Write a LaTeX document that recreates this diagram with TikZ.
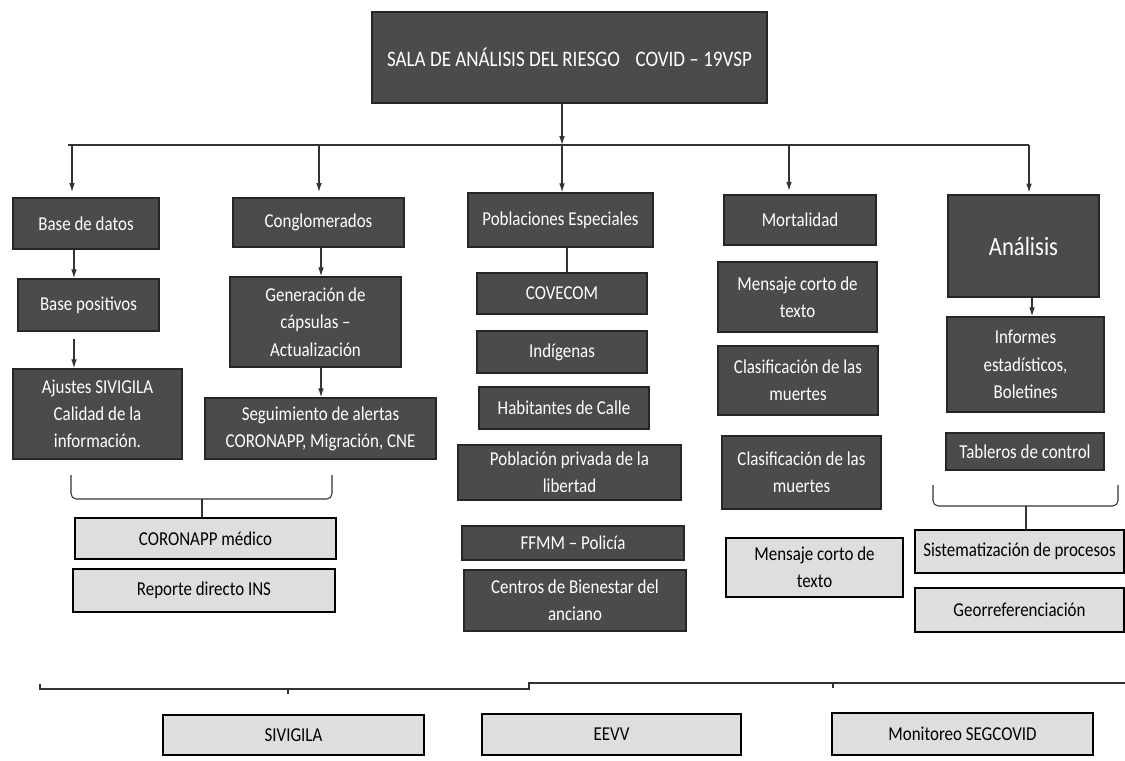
\documentclass[tikz,border=0pt]{standalone}
\usepackage{fontspec}
\setmainfont{Carlito}[FakeStretch=0.86]
\usetikzlibrary{arrows.meta}
\begin{document}
\begin{tikzpicture}[x=1cm,y=1cm]
\definecolor{cdark}{HTML}{4B4B4B}\definecolor{clight}{HTML}{DEDEDE}
\tikzset{darkbox/.style={draw=black!85,line width=0.9pt,fill=cdark,text=white,align=center,inner sep=1pt,font=\fontsize{11.2}{15.5}\selectfont},
 lightbox/.style={draw=black,line width=1pt,fill=clight,text=black,align=center,inner sep=1pt,font=\fontsize{11.2}{15.5}\selectfont},
 link/.style={draw=black!80,line width=0.6pt},
 arr/.style={link,-{Latex[length=5pt,width=3.2pt]}}}
\useasboundingbox (0,0) rectangle (22.5,15.2);
% head
\node[darkbox,minimum width=7.9cm,minimum height=1.82cm,font=\fontsize{12.6}{15}\selectfont] (sala) at (11.39,14.05) {SALA DE ANÁLISIS DEL RIESGO\hspace{0.7em}COVID -- 19VSP};
% column 1
\node[darkbox,minimum width=2.92cm,minimum height=1.02cm] (base) at (1.72,10.73) {Base de datos};
\node[darkbox,minimum width=2.82cm,minimum height=1.04cm] (basepos) at (1.77,9.10) {Base positivos};
\node[darkbox,minimum width=3.38cm,minimum height=1.80cm] (ajustes) at (1.95,6.92) {Ajustes SIVIGILA\\Calidad de la\\información.};
% column 2
\node[darkbox,minimum width=3.42cm,minimum height=0.98cm] (conglo) at (6.37,10.75) {Conglomerados};
\node[darkbox,minimum width=3.42cm,minimum height=1.80cm] (genera) at (6.31,8.76) {Generación de\\cápsulas --\\Actualización};
\node[darkbox,minimum width=4.62cm,minimum height=1.22cm] (segui) at (6.41,6.63) {Seguimiento de alertas\\CORONAPP, Migración, CNE};
\node[lightbox,minimum width=5.22cm,minimum height=0.82cm] (coromed) at (4.11,4.43) {CORONAPP médico};
\node[lightbox,minimum width=5.24cm,minimum height=0.86cm] (reporte) at (4.08,3.39) {Reporte directo INS};
% column 3
\node[darkbox,minimum width=3.70cm,minimum height=1.08cm] (poblac) at (11.21,10.80) {Poblaciones Especiales};
\node[darkbox,minimum width=3.40cm,minimum height=0.82cm] (covecom) at (11.24,9.33) {COVECOM};
\node[darkbox,minimum width=3.40cm,minimum height=0.84cm] (indig) at (11.24,8.16) {Indígenas};
\node[darkbox,minimum width=3.40cm,minimum height=0.84cm] (habit) at (11.28,7.04) {Habitantes de Calle};
\node[darkbox,minimum width=4.46cm,minimum height=1.10cm] (privada) at (11.39,5.75) {Población privada de la\\libertad};
\node[darkbox,minimum width=4.44cm,minimum height=0.68cm] (ffmm) at (11.46,4.34) {FFMM -- Policía};
\node[darkbox,minimum width=4.44cm,minimum height=1.22cm] (centros) at (11.50,3.19) {Centros de Bienestar del\\anciano};
% column 4
\node[darkbox,minimum width=3.04cm,minimum height=1.00cm] (mortal) at (16.00,10.80) {Mortalidad};
\node[darkbox,minimum width=3.18cm,minimum height=1.40cm] (mensaje) at (15.95,9.26) {Mensaje corto de\\texto};
\node[darkbox,minimum width=3.20cm,minimum height=1.38cm] (clasifa) at (15.96,7.59) {Clasificación de las\\muertes};
\node[darkbox,minimum width=3.18cm,minimum height=1.46cm] (clasifb) at (16.03,5.75) {Clasificación de las\\muertes};
\node[lightbox,minimum width=3.54cm,minimum height=1.18cm] (mensajel) at (16.29,3.85) {Mensaje corto de\\texto};
% column 5
\node[darkbox,minimum width=3.02cm,minimum height=2.04cm,font=\fontsize{15}{17}\selectfont] (analisis) at (20.47,10.28) {Análisis};
\node[darkbox,minimum width=3.14cm,minimum height=1.90cm] (informes) at (20.51,7.91) {Informes\\estadísticos,\\Boletines};
\node[darkbox,minimum width=3.16cm,minimum height=0.74cm] (tableros) at (20.50,6.17) {Tableros de control};
\node[lightbox,minimum width=4.18cm,minimum height=0.86cm] (sistema) at (20.39,4.17) {Sistematización de procesos};
\node[lightbox,minimum width=4.18cm,minimum height=0.88cm] (georef) at (20.39,3.00) {Georreferenciación};
% bottom row
\node[lightbox,minimum width=5.22cm,minimum height=0.80cm] (sivigila) at (5.87,0.50) {SIVIGILA};
\node[lightbox,minimum width=5.18cm,minimum height=0.82cm] (eevv) at (12.23,0.51) {EEVV};
\node[lightbox,minimum width=5.22cm,minimum height=0.84cm] (segcovid) at (19.25,0.52) {Monitoreo SEGCOVID};
% bus under the head
\coordinate (bus) at (11.24,12.30);
\coordinate (busa) at (1.44,12.30);\coordinate (busb) at (6.38,12.30);
\coordinate (busd) at (15.78,12.30);\coordinate (buse) at (20.58,12.30);
\draw[arr] (sala.south-|bus) -- (bus);
\draw[link] (1.36,12.30) -- (buse);
\draw[arr] (busa) -- ([yshift=3pt]busa|-base.north);
\draw[arr] (busb) -- ([yshift=3pt]busb|-conglo.north);
\draw[arr] (bus) -- (bus|-poblac.north);
\draw[arr] (busd) -- ([yshift=2pt]busd|-mortal.north);
\draw[arr] (buse) -- ([yshift=1pt]buse|-analisis.north);
% links inside the columns
\draw[arr] (1.48,0|-base.south) -- (1.48,0|-basepos.north);
\draw[arr] ([yshift=-4pt]1.48,0|-basepos.south) -- (1.48,0|-ajustes.north);
\draw[arr] (6.42,0|-conglo.south) -- (6.42,0|-genera.north);
\draw[arr] (6.42,0|-genera.south) -- (6.42,0|-segui.north);
\draw[link] (11.34,0|-poblac.south) -- (11.34,0|-covecom.north);
\draw[arr] (20.64,0|-analisis.south) -- (20.64,0|-informes.north);
% braces
\draw[link,rounded corners=3pt] (1.42,5.70) -- (1.42,5.22) -- (6.64,5.22) -- (6.64,5.70);
\draw[link] (4.04,5.22) -- (4.04,0|-coromed.north);
\draw[link,rounded corners=3pt] (18.66,5.50) -- (18.66,5.08) -- (22.36,5.08) -- (22.36,5.50);
\draw[link] (20.52,5.08) -- (20.52,0|-sistema.north);
% bottom line
\draw[link] (0.80,1.52) -- (0.80,1.42) -- (10.58,1.42) -- (10.58,1.54) -- (22.5,1.54);
\draw[link] (5.76,1.42) -- (5.76,1.33);
\draw[link] (16.66,1.54) -- (16.66,1.45);
\end{tikzpicture}
\end{document}
